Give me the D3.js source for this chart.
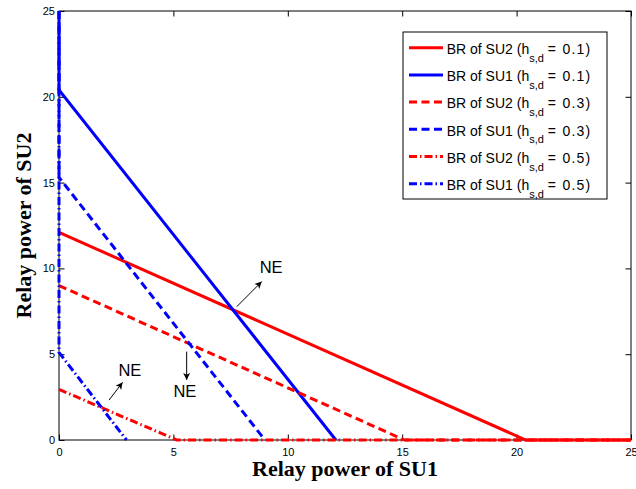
<!DOCTYPE html>
<html>
<head>
<meta charset="utf-8">
<script src="https://cdn.jsdelivr.net/npm/d3@7"></script>
<style>
  html, body { margin: 0; padding: 0; background: #fff; }
  svg { display: block; }
  .tick text { font-family: "Liberation Sans", Arial, sans-serif; font-size: 11px; fill: #000; }
</style>
</head>
<body>
<svg id="chart" width="636" height="489"></svg>
<script>
// Best-response curves (relay power of SU2 vs relay power of SU1)
const su2X01 = [0, 20.4, 25], su2Y01 = [12.1, 0, 0];
const su1X01 = [0, 0, 12.1], su1Y01 = [25, 20.4, 0];
const su2X03 = [0, 15.1, 25], su2Y03 = [9.0, 0, 0];
const su1X03 = [0, 0, 9.0], su1Y03 = [25, 15.3, 0];
const su2X05 = [0, 5.15, 25], su2Y05 = [2.95, 0, 0];
const su1X05 = [0, 0, 2.95], su1Y05 = [25, 5.1, 0];

const seriesNames = ["BR of SU2", "BR of SU1", "BR of SU2", "BR of SU1", "BR of SU2", "BR of SU1"];
const hValues = ["0.1", "0.1", "0.3", "0.3", "0.5", "0.5"];

const xTicks = [0, 5, 10, 15, 20, 25];
const yTicks = [0, 5, 10, 15, 20, 25];

// Nash equilibrium annotations: arrow tail/head and label centre, in data units
const neArrowX1 = [7.77, 5.58, 2.19], neArrowY1 = [7.77, 5.15, 2.33];
const neArrowX2 = [8.86, 5.58, 2.78], neArrowY2 = [9.23, 3.50, 3.36];
const neLabelX = [9.27, 5.50, 3.10], neLabelY = [10.08, 2.85, 4.08];

const svg = d3.select("#chart");
const plotL = 59, plotR = 631, plotT = 11, plotB = 440;

const x = d3.scaleLinear().domain([0, 25]).range([plotL, plotR]);
const y = d3.scaleLinear().domain([0, 25]).range([plotB, plotT]);

const tickLen = 5.5;

// axes with inward ticks, mirrored on top and right
svg.append("g").attr("transform", `translate(0,${plotB})`)
  .call(d3.axisBottom(x).tickValues(xTicks).tickFormat(d3.format("d")).tickSize(-tickLen).tickSizeOuter(0).tickPadding(8.5))
  .call(g => g.select(".domain").remove());
svg.append("g").attr("transform", `translate(${plotL},0)`)
  .call(d3.axisLeft(y).tickValues(yTicks).tickFormat(d3.format("d")).tickSize(-tickLen).tickSizeOuter(0).tickPadding(4))
  .call(g => g.select(".domain").remove());
svg.append("g").attr("transform", `translate(0,${plotT})`)
  .call(d3.axisTop(x).tickValues(xTicks).tickFormat("").tickSize(-tickLen).tickSizeOuter(0))
  .call(g => g.select(".domain").remove());
svg.append("g").attr("transform", `translate(${plotR},0)`)
  .call(d3.axisRight(y).tickValues(yTicks).tickFormat("").tickSize(-tickLen).tickSizeOuter(0))
  .call(g => g.select(".domain").remove());
svg.selectAll(".tick line").attr("stroke", "#000").attr("stroke-width", 1);

svg.append("rect")
  .attr("x", plotL).attr("y", plotT)
  .attr("width", plotR - plotL).attr("height", plotB - plotT)
  .attr("fill", "none").attr("stroke", "#000").attr("stroke-width", 1);

// curves
const styles = [
  { color: "#ff0000", dash: null },
  { color: "#0000ff", dash: null },
  { color: "#ff0000", dash: "8,4.5" },
  { color: "#0000ff", dash: "8,4.5" },
  { color: "#ff0000", dash: "8,3,1.5,3" },
  { color: "#0000ff", dash: "8,3,1.5,3" }
];
const curves = [
  [su2X01, su2Y01], [su1X01, su1Y01],
  [su2X03, su2Y03], [su1X03, su1Y03],
  [su2X05, su2Y05], [su1X05, su1Y05]
];
const line = d3.line().x(d => x(d[0])).y(d => y(d[1]));

curves.forEach((c, i) => {
  const pts = c[0].map((v, k) => [v, c[1][k]]);
  svg.append("path")
    .attr("d", line(pts))
    .attr("fill", "none")
    .attr("stroke", styles[i].color)
    .attr("stroke-width", 3)
    .attr("stroke-dasharray", styles[i].dash);
});

// arrows
svg.append("defs").append("marker")
  .attr("id", "head")
  .attr("markerUnits", "userSpaceOnUse")
  .attr("viewBox", "0 0 10 10")
  .attr("refX", 10).attr("refY", 5)
  .attr("markerWidth", 9).attr("markerHeight", 7)
  .attr("orient", "auto")
  .append("path").attr("d", "M0,0 L10,5 L0,10 L2.5,5 Z").attr("fill", "#000");

neArrowX1.forEach((v, i) => {
  svg.append("line")
    .attr("x1", x(v)).attr("y1", y(neArrowY1[i]))
    .attr("x2", x(neArrowX2[i])).attr("y2", y(neArrowY2[i]))
    .attr("stroke", "#000").attr("stroke-width", 1)
    .attr("marker-end", "url(#head)");
});
neLabelX.forEach((v, i) => {
  svg.append("text")
    .attr("x", x(v)).attr("y", y(neLabelY[i]))
    .attr("dy", "0.36em")
    .attr("text-anchor", "middle")
    .attr("font-family", "Liberation Sans, Arial, sans-serif")
    .attr("font-size", 16.5)
    .text("NE");
});

// legend
const lg = svg.append("g");
lg.append("rect")
  .attr("x", 403).attr("y", 32).attr("width", 204).attr("height", 167)
  .attr("fill", "#fff").attr("stroke", "#000").attr("stroke-width", 1);
seriesNames.forEach((name, i) => {
  const ly = 47.7 + i * 27.2;
  lg.append("line")
    .attr("x1", 409).attr("x2", 443).attr("y1", ly).attr("y2", ly)
    .attr("stroke", styles[i].color).attr("stroke-width", 3)
    .attr("stroke-dasharray", styles[i].dash);
  const t = lg.append("text")
    .attr("x", 446.7).attr("y", ly + 6.3)
    .attr("font-family", "Liberation Sans, Arial, sans-serif")
    .attr("font-size", 14).attr("fill", "#000");
  t.append("tspan").text(name + " (h");
  t.append("tspan").attr("font-size", 11).attr("dy", 7.7).text("s,d");
  t.append("tspan").attr("dy", -7.7).attr("dx", 4).text("=");
  t.append("tspan").attr("dx", 6.5).attr("letter-spacing", 1.2).text(hValues[i] + ")");
});

// axis titles
svg.append("text")
  .attr("x", (plotL + plotR) / 2).attr("y", 476)
  .attr("text-anchor", "middle")
  .attr("font-family", "Liberation Serif, Times New Roman, serif")
  .attr("font-weight", "bold").attr("font-size", 22)
  .text("Relay power of SU1");
svg.append("text")
  .attr("transform", `translate(31,${(plotT + plotB) / 2}) rotate(-90)`)
  .attr("text-anchor", "middle")
  .attr("font-family", "Liberation Serif, Times New Roman, serif")
  .attr("font-weight", "bold").attr("font-size", 22)
  .text("Relay power of SU2");
</script>
</body>
</html>
